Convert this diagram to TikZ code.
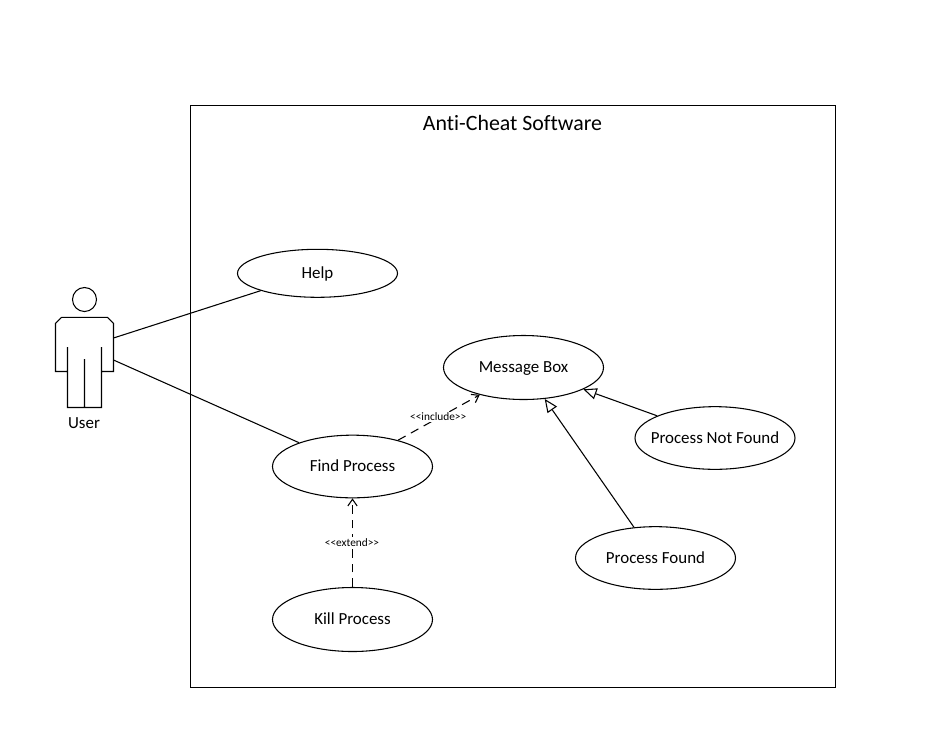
\documentclass[tikz,border=0pt]{standalone}
\usepackage{fontspec}
\setmainfont[Ligatures=NoCommon]{Carlito}
\usetikzlibrary{arrows.meta,shapes.geometric}
\newcommand{\uctext}[1]{\makebox[0pt]{\raisebox{0pt}[8.2pt][0pt]{#1}}}
\tikzset{
  x=0.75pt, y=-0.75pt,
  every path/.style={line width=0.8pt},
  usecase/.style={draw, ellipse, inner sep=0pt, font=\fontsize{12.7}{14}\selectfont},
  framebox/.style={draw, minimum width=483.75pt, minimum height=436.5pt, inner sep=0pt},
  title/.style={font=\fontsize{16.4}{19}\selectfont, inner sep=0pt},
  actorlabel/.style={font=\fontsize{12.7}{14}\selectfont, inner sep=0pt},
  assoc/.style={draw},
  dep/.style={draw, dash pattern=on 6.5pt off 4.5pt, -{Straight Barb[length=5pt,width=7pt]}},
  gen/.style={draw, -{Triangle[open,fill=white,length=10pt,width=8.5pt]}},
  deplabel/.style={font=\fontsize{8.5}{9}\selectfont, fill=white, inner sep=1pt},
}
\begin{document}
\begin{tikzpicture}
\useasboundingbox (0,0) rectangle (929,744);
\node[framebox] (system) at (512.75,396.5) {};
\node[title] (systitle) at (512.5,122.5) {Anti-Cheat Software};

\node[usecase, minimum width=120pt, minimum height=36pt] (help) at (317.5,273.3) {\uctext{Help}};
\node[usecase, minimum width=120pt, minimum height=47pt] (find) at (352.5,466.5) {\uctext{Find Process}};
\node[usecase, minimum width=120pt, minimum height=48pt] (msg) at (523.5,367.5) {\uctext{Message Box}};
\node[usecase, minimum width=120pt, minimum height=47pt] (notfound) at (715,438) {\uctext{Process Not Found}};
\node[usecase, minimum width=120pt, minimum height=47pt] (found) at (655.5,558) {\uctext{Process Found}};
\node[usecase, minimum width=120pt, minimum height=48pt] (kill) at (352.5,619.5) {\uctext{Kill Process}};

% actor
\node[draw, circle, minimum size=18pt, inner sep=0pt] (head) at (84.5,299.5) {};
\draw (61.5,317.3) -- (107.5,317.3) -- (113.5,323.3) -- (113.5,371.5) -- (101.5,371.5)
      (101.5,347) -- (101.5,407.5) -- (67.5,407.5) -- (67.5,347)
      (67.5,371.5) -- (55.5,371.5) -- (55.5,323.3) -- (61.5,317.3)
      (84.5,359) -- (84.5,407.5);
\coordinate (handa) at (113.5,338);
\coordinate (handb) at (113.5,360);
\node[actorlabel] (user) at (84,423) {User};

\draw[assoc] (handa) -- (help.197);
\draw[assoc] (handb) -- (find.156.3);
\draw[dep] (find.30.3) -- node[deplabel, xshift=-0.5pt, yshift=0.5pt] (inc) {<{}<include>{}>} (msg.212);
\draw[dep] (kill.north) -- node[deplabel, xshift=-0.4pt] (ext) {<{}<extend>{}>} (find.south);
\draw[gen] (notfound.159.8) -- (msg.-20.6);
\draw[gen] (found.125.6) -- (msg.-56.5);
\end{tikzpicture}
\end{document}
